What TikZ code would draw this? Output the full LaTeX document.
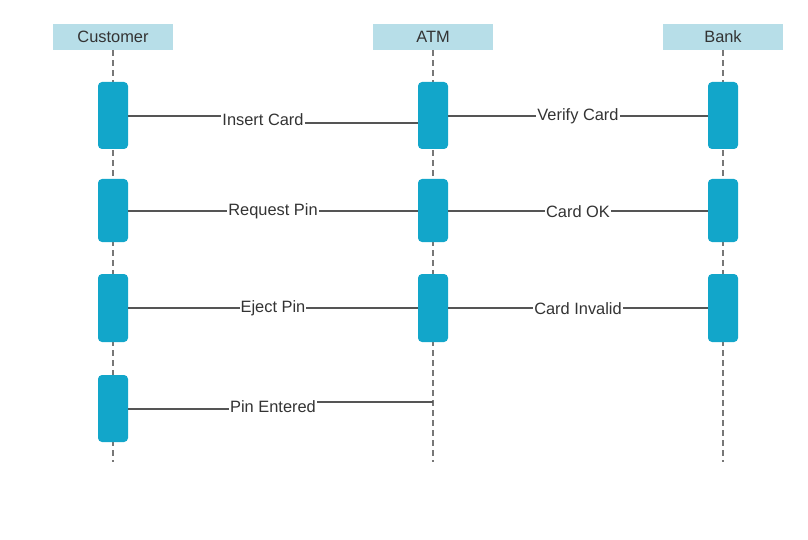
\documentclass[tikz,border=0pt]{standalone}
\usepackage{fontspec}
\setmainfont{Liberation Sans}
\usetikzlibrary{positioning,calc}
\definecolor{sqHead}{HTML}{B7DEE8}
\definecolor{sqAct}{HTML}{12A6CA}
\definecolor{sqLine}{HTML}{555555}
\definecolor{sqLife}{HTML}{777777}
\definecolor{sqText}{HTML}{333333}
\tikzset{
  header/.style={
    fill=sqHead, minimum width=120pt, minimum height=26pt, inner sep=0pt,
    font=\fontsize{16.4}{18}\selectfont, text=sqText
  },
  actbox/.style={fill=sqAct, rounded corners=4pt, minimum width=30pt, inner sep=0pt},
  lifeline/.style={sqLife, line width=2.2pt, dash pattern=on 6pt off 4pt},
  msg/.style={sqLine, line width=1.4pt},
  msglabel/.style={fill=white, inner sep=1pt, font=\fontsize{16.4}{18}\selectfont, text=sqText}
}

\begin{document}
\begin{tikzpicture}[x=1pt,y=-1pt]
  \useasboundingbox (0,0) rectangle (808,540);
  \node[header] (cust) at (113,37) {Customer};
  \node[header] (atm) at (433,37) {ATM};
  \node[header] (bank) at (723,37) {Bank};
  \foreach \p in {cust,atm,bank}{\draw[lifeline] (\p.south) -- ++(0,412);}
  % activation boxes
  \foreach \r/\y/\h in {1/115.5/67,2/210.5/63,3/308/68,4/408.5/67}{
    \node[actbox, minimum height=\h pt] (c\r) at (113,\y) {};
  }
  \foreach \r/\y/\h in {1/115.5/67,2/210.5/63,3/308/68}{
    \node[actbox, minimum height=\h pt] (a\r) at (433,\y) {};
    \node[actbox, minimum height=\h pt] (b\r) at (723,\y) {};
  }
  % messages
  \node[msglabel] (ins) at (263,119.5) {Insert Card};
  \draw[msg] (c1.east |- 0,116) -- (ins.west |- 0,116);
  \draw[msg] (ins.east |- 0,123) -- (a1.west |- 0,123);
  \draw[msg] (a1.east |- 0,116) -- (b1.west |- 0,116) node[msglabel, midway, yshift=-0.5pt] {Verify Card};
  \draw[msg] (c2.east |- 0,211) -- (a2.west |- 0,211) node[msglabel, midway, yshift=-0.5pt] {Request Pin};
  \draw[msg] (a2.east |- 0,211) -- (b2.west |- 0,211) node[msglabel, midway, yshift=-0.5pt] {Card OK};
  \draw[msg] (c3.east |- 0,308) -- (a3.west |- 0,308) node[msglabel, midway, yshift=-0.5pt] {Eject Pin};
  \draw[msg] (a3.east |- 0,308) -- (b3.west |- 0,308) node[msglabel, midway, yshift=-0.5pt] {Card Invalid};
  \node[msglabel] (pin) at (273,406.5) {Pin Entered};
  \coordinate (pinend) at (atm.south |- 0,402);
  \draw[msg] (c4.east |- 0,409) -- (pin.west |- 0,409);
  \draw[msg] (pin.east |- 0,402) -- (pinend);
\end{tikzpicture}
\end{document}
